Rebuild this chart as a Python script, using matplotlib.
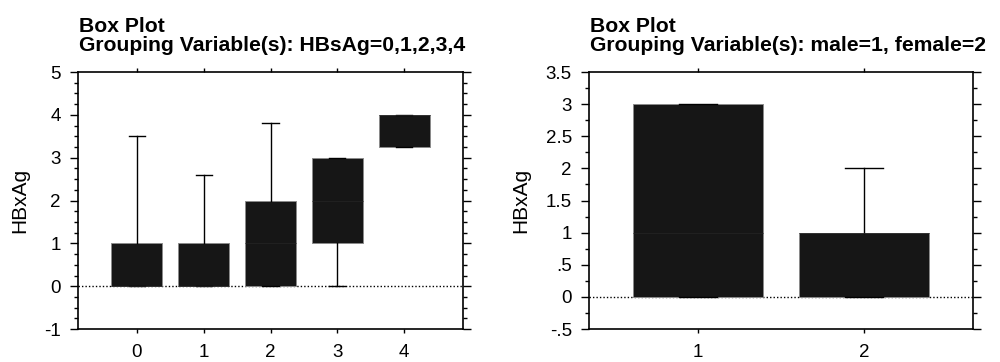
import matplotlib.pyplot as plt
from matplotlib.ticker import MultipleLocator, FixedFormatter, FixedLocator

plt.rcParams['font.family'] = ['Liberation Sans', 'DejaVu Sans']
plt.rcParams['axes.unicode_minus'] = False

# left panel: HBxAg grouped by HBsAg
hbs_groups = ["0", "1", "2", "3", "4"]
hbs_q1 = [0, 0, 0, 1, 3.25]
hbs_med = [0, 0, 1, 2, 4]
hbs_q3 = [1, 1, 2, 3, 4]
hbs_lo = [0, 0, 0, 0, 3.25]
hbs_hi = [3.5, 2.6, 3.8, 3, 4]

# right panel: HBxAg grouped by sex
sex_groups = ["1", "2"]
sex_q1 = [0, 0]
sex_med = [1, 1]
sex_q3 = [3, 1]
sex_lo = [0, 0]
sex_hi = [3, 2]

left_yticks = [-1, 0, 1, 2, 3, 4, 5]
right_yticks = [-0.5, 0, 0.5, 1, 1.5, 2, 2.5, 3, 3.5]
right_ylabels = ["-.5", "0", ".5", "1", "1.5", "2", "2.5", "3", "3.5"]

BOX = '#161616'


def draw(ax, groups, q1, med, q3, lo, hi, width, capw):
    stats = []
    for i, g in enumerate(groups):
        stats.append(dict(label=g, q1=q1[i], med=med[i], q3=q3[i],
                          whislo=lo[i], whishi=hi[i]))
    ax.axhline(0, color='black', linestyle=(0, (1, 1.5)), lw=1.0, zorder=1)
    ax.bxp(stats, positions=range(len(groups)), widths=width, capwidths=capw,
           patch_artist=True, showfliers=False,
           boxprops=dict(facecolor=BOX, edgecolor='#8a8a8a', lw=0.7),
           medianprops=dict(color='#222222', lw=0.6),
           whiskerprops=dict(color='black', lw=1.0),
           capprops=dict(color='black', lw=1.0), zorder=3)


def style(ax):
    for s in ax.spines.values():
        s.set_linewidth(1.2)
    ax.tick_params(axis='y', which='major', direction='out', length=5.8, width=1.0,
                   left=True, right=True, labelsize=13.5, pad=6.5)
    ax.tick_params(axis='y', which='minor', direction='out', length=3, width=1.0,
                   left=True, right=True)
    ax.tick_params(axis='x', which='major', direction='out', length=3, width=1.0,
                   top=True, bottom=True, labelsize=13.5, pad=8)
    ax.set_ylabel('HBxAg', fontsize=15, labelpad=11)


fig = plt.figure(figsize=(10, 3.62), dpi=100)
ax1 = fig.add_axes([0.078, 0.091, 0.385, 0.71])
ax2 = fig.add_axes([0.589, 0.091, 0.384, 0.71])

draw(ax1, hbs_groups, hbs_q1, hbs_med, hbs_q3, hbs_lo, hbs_hi, 0.76, 0.24)
ax1.set_xlim(-0.88, 4.88)
ax1.set_ylim(-1, 5)
ax1.yaxis.set_major_locator(FixedLocator(left_yticks))
ax1.yaxis.set_minor_locator(MultipleLocator(0.25))
style(ax1)

draw(ax2, sex_groups, sex_q1, sex_med, sex_q3, sex_lo, sex_hi, 0.78, 0.23)
ax2.set_xlim(-0.657, 1.657)
ax2.set_ylim(-0.5, 3.5)
ax2.yaxis.set_major_locator(FixedLocator(right_yticks))
ax2.yaxis.set_major_formatter(FixedFormatter(right_ylabels))
ax2.yaxis.set_minor_locator(MultipleLocator(0.25))
style(ax2)

title_kw = dict(fontsize=15.2, fontweight='bold', va='baseline', ha='left')
fig.text(0.079, 1 - 32 / 362, 'Box Plot', **title_kw)
fig.text(0.079, 1 - 51 / 362, 'Grouping Variable(s): HBsAg=0,1,2,3,4', **title_kw)
fig.text(0.590, 1 - 32 / 362, 'Box Plot', **title_kw)
fig.text(0.590, 1 - 51 / 362, 'Grouping Variable(s): male=1, female=2', **title_kw)

fig.savefig('out.png', dpi=100)
